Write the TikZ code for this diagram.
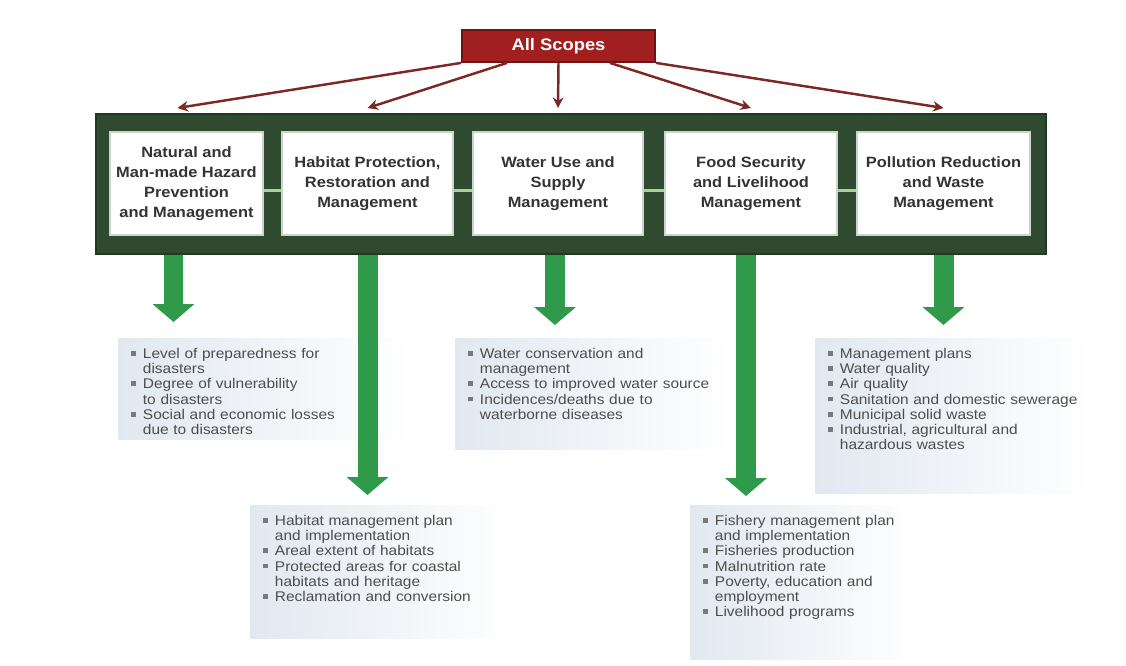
\documentclass[tikz,border=0pt]{standalone}
\usepackage{fontspec}
\setmainfont{Liberation Sans}[FakeStretch=1.1]
\usepackage{xcolor}
\usepackage{enumitem}
\usetikzlibrary{arrows.meta,calc}
\definecolor{framegreen}{HTML}{2F4A2E}
\definecolor{framedark}{HTML}{233823}
\definecolor{arrowgreen}{HTML}{2E9A4A}
\definecolor{linkgreen}{HTML}{A3D49A}
\definecolor{topicedge}{HTML}{C9D6C9}
\definecolor{scopered}{HTML}{A11F1F}
\definecolor{scopeedge}{HTML}{6E1414}
\definecolor{scopeline}{HTML}{7D2822}
\definecolor{listshade}{HTML}{E1E8F0}
\definecolor{headgray}{HTML}{333333}
\definecolor{listgray}{HTML}{4D4D4D}
\definecolor{bulletgray}{HTML}{7A7A7A}
\setlist[itemize]{nosep, leftmargin=9pt, labelsep=4pt, label={\color{bulletgray}\rule[1.5pt]{2.8pt}{2.8pt}}}

\begin{document}
            \begin{tikzpicture}[x=0.02cm, y=-0.02cm,
                topic/.style={fill=white, draw=topicedge, line width=0.6pt, align=center, text=headgray, minimum height=2.06cm, inner sep=2pt, font=\bfseries\fontsize{8.5}{11.3}\selectfont},
                measures/.style={anchor=north west, left color=listshade, right color=white, text=listgray, inner xsep=5pt, inner ysep=3pt, align=left, font=\fontsize{8}{8.6}\selectfont},
                scopearrow/.style={draw=scopeline, line width=1.4pt, -{Stealth[length=6pt, width=6pt]}},
                downarrow/.style={draw=arrowgreen, line width=0.4cm, -{Triangle[width=0.82cm, length=0.36cm]}},
                link/.style={draw=linkgreen, line width=1.2pt}]
                \useasboundingbox (0,0) rectangle (1126,666);

                \node[fill=framegreen, draw=framedark, line width=1pt, minimum width=19cm, minimum height=2.8cm, anchor=north west, inner sep=0pt]
                (frame) at (95,113) {};

                \node[fill=scopered, draw=scopeedge, line width=1pt, minimum width=3.86cm, minimum height=0.64cm, text=white, font=\bfseries\fontsize{9.5}{11}\selectfont]
                (scopes) at (558.5,46) {All Scopes};

                \node[topic, minimum width=3.06cm] (hazard) at (186.5,183.5) {Natural and\\Man-made Hazard\\Prevention\\and Management};
                \node[topic, minimum width=3.42cm] (habitat) at (367.5,183.5) {Habitat Protection,\\Restoration and\\Management};
                \node[topic, minimum width=3.4cm] (water) at (558,183.5) {Water Use and\\Supply\\Management};
                \node[topic, minimum width=3.44cm] (food) at (751,183.5) {Food Security\\and Livelihood\\Management};
                \node[topic, minimum width=3.46cm] (pollution) at (943.5,183.5) {Pollution Reduction\\and Waste\\Management};

                \draw[link] ($(hazard.east)+(0,7)$) -- ($(habitat.west)+(0,7)$);
                \draw[link] ($(habitat.east)+(0,7)$) -- ($(water.west)+(0,7)$);
                \draw[link] ($(water.east)+(0,7)$) -- ($(food.west)+(0,7)$);
                \draw[link] ($(food.east)+(0,7)$) -- ($(pollution.west)+(0,7)$);

                \draw[scopearrow] (scopes.south west) -- ($(hazard.north |- frame.north)+(-9,-5)$);
                \draw[scopearrow] ($(scopes.south west)+(46,0)$) -- ($(habitat.north |- frame.north)+(0,-5)$);
                \draw[scopearrow] (scopes.south) -- ($(water.north |- frame.north)+(0,-5)$);
                \draw[scopearrow] ($(scopes.south east)+(-46,0)$) -- ($(food.north |- frame.north)+(0,-5)$);
                \draw[scopearrow] (scopes.south east) -- ($(pollution.north |- frame.north)+(0,-5)$);

                \node[measures, text width=5.49cm] (hazardlist) at (118,338) {
                    \begin{itemize}
                    \item Level of preparedness for\\disasters
                    \item Degree of vulnerability\\to disasters
                    \item Social and economic losses\\due to disasters
                    \end{itemize}
                };
                \node[measures, text width=5.15cm] (waterlist) at (455,338) {
                    \begin{itemize}
                    \item Water conservation and\\management
                    \item \mbox{Access to improved water source}
                    \item Incidences/deaths due to\\waterborne diseases
                    \end{itemize}
                    \vspace*{14pt}
                };
                \node[measures, text width=5.15cm] (pollutionlist) at (815,338) {
                    \begin{itemize}
                    \item Management plans
                    \item Water quality
                    \item Air quality
                    \item Sanitation and domestic sewerage
                    \item Municipal solid waste
                    \item Industrial, agricultural and\\hazardous wastes
                    \end{itemize}
                    \vspace*{22pt}
                };
                \node[measures, text width=4.85cm] (habitatlist) at (250,505) {
                    \begin{itemize}
                    \item Habitat management plan\\and implementation
                    \item Areal extent of habitats
                    \item Protected areas for coastal\\habitats and heritage
                    \item Reclamation and conversion
                    \end{itemize}
                    \vspace*{18pt}
                };
                \node[measures, text width=4.15cm] (foodlist) at (690,505) {
                    \begin{itemize}
                    \item Fishery management plan\\and implementation
                    \item Fisheries production
                    \item Malnutrition rate
                    \item Poverty, education and\\employment
                    \item Livelihood programs
                    \end{itemize}
                    \vspace*{20pt}
                };

                \draw[downarrow] ($(hazard.south |- frame.south)+(-13,0)$) -- ($(hazard.south |- hazardlist.north)+(-13,-16)$);
                \draw[downarrow] (habitat.south |- frame.south) -- ($(habitat.south |- habitatlist.north)+(0,-10)$);
                \draw[downarrow] ($(water.south |- frame.south)+(-3,0)$) -- ($(water.south |- waterlist.north)+(-3,-13)$);
                \draw[downarrow] ($(food.south |- frame.south)+(-5,0)$) -- ($(food.south |- foodlist.north)+(-5,-9)$);
                \draw[downarrow] (pollution.south |- frame.south) -- ($(pollution.south |- pollutionlist.north)+(0,-13)$);
            \end{tikzpicture}
\end{document}
